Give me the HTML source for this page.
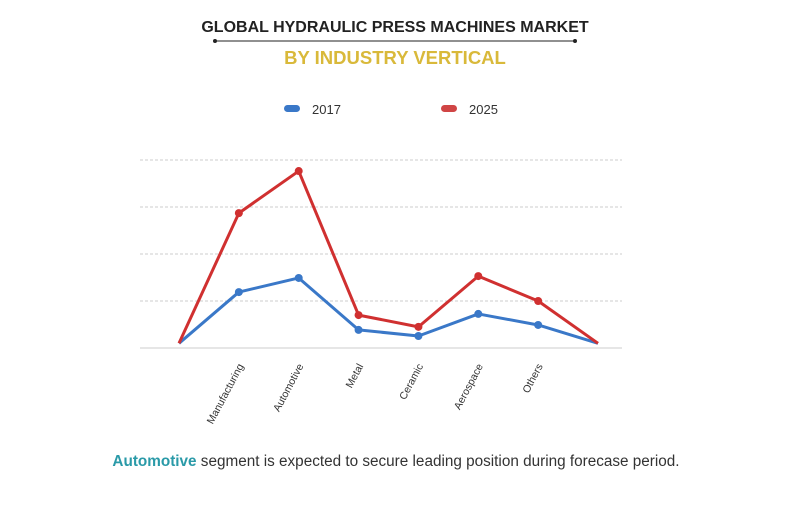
<!DOCTYPE html>
<html><head><meta charset="utf-8"><style>
body{margin:0;background:#fff;width:790px;height:512px;overflow:hidden;font-family:"Liberation Sans",sans-serif}
</style></head><body>
<svg width="790" height="512">
<text x="395" y="32" text-anchor="middle" font-size="16" font-weight="bold" fill="#222">GLOBAL HYDRAULIC PRESS MACHINES MARKET</text>
<line x1="215" y1="41" x2="575" y2="41" stroke="#222" stroke-width="1"/>
<circle cx="215" cy="41" r="2" fill="#222"/><circle cx="575" cy="41" r="2" fill="#222"/>
<text x="395" y="64" text-anchor="middle" font-size="18.5" font-weight="bold" fill="#d9b93a">BY INDUSTRY VERTICAL</text>
<g>
<rect x="284" y="105" width="16" height="7" rx="3.5" fill="#3a78c8"/>
<text x="312" y="114" font-size="13" fill="#333">2017</text>
<rect x="441" y="105" width="16" height="7" rx="3.5" fill="#d04545"/>
<text x="469" y="114" font-size="13" fill="#333">2025</text>
</g>
<g id="grid"></g><g id="plot"></g><g id="labels"></g>
<text x="396" y="466" text-anchor="middle" font-size="15.3" fill="#333"><tspan font-weight="bold" fill="#2a9aa8">Automotive</tspan> segment is expected to secure leading position during forecase period.</text>
</svg>
<script>
const categories=["","Manufacturing","Automotive","Metal","Ceramic","Aerospace","Others",""];
const values2017=[2,23.8,29.8,7.7,5.1,14.5,9.8,2];
const values2025=[2,57.4,75.3,14,9,30.6,20,2];
const gridTicks=[20,40,60,80];
const NS="http://www.w3.org/2000/svg";
const x0=179,x1=598,yBase=348,yMax=80,yTop=160;
const xs=i=>x0+i*(x1-x0)/(categories.length-1);
const ys=v=>yBase-v*(yBase-yTop)/yMax;
function mk(t,a,p){const e=document.createElementNS(NS,t);for(const k in a)e.setAttribute(k,a[k]);p.appendChild(e);return e;}
const grid=document.getElementById('grid'),plot=document.getElementById('plot'),labels=document.getElementById('labels');
gridTicks.forEach(t=>{const l=mk('line',{x1:140,x2:622,y1:ys(t),y2:ys(t),stroke:'#ccc','stroke-dasharray':'3,2'},grid);

});
const ax=mk('line',{x1:140,x2:622,y1:yBase,y2:yBase,stroke:'#ccc'},grid);


[[values2017,'#3a78c8','2017'],[values2025,'#d03030','2025']].forEach(([vals,c,n])=>{
const pl=mk('polyline',{points:vals.map((v,i)=>xs(i)+','+ys(v)).join(' '),fill:'none',stroke:c,'stroke-width':3,'stroke-linejoin':'round'},plot);


vals.forEach((v,i)=>{if(i==0||i==vals.length-1)return;
const p=mk('circle',{cx:xs(i),cy:ys(v),r:4,fill:c},plot);

});
});
categories.forEach((c,i)=>{if(!c)return;const x=xs(i)+5,y=yBase+18;
const t=mk('text',{x:x,y:y,'text-anchor':'end','font-size':10.5,fill:'#333',transform:`rotate(-62 ${x} ${y})`},labels);
t.textContent=c;

});
</script>
</body></html>
